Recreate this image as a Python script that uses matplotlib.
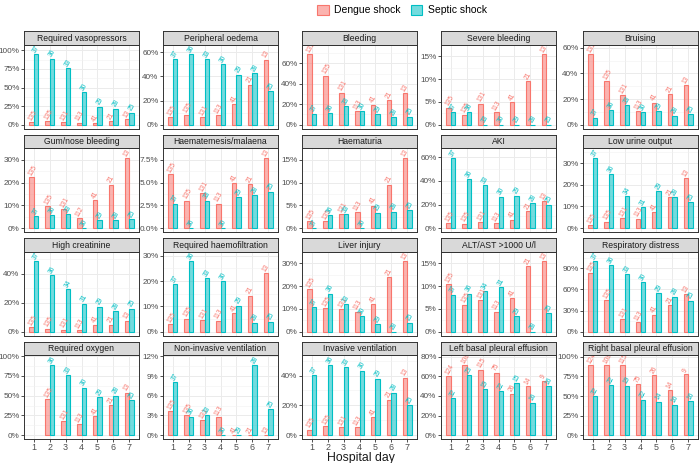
import numpy as np
import matplotlib
matplotlib.use("Agg")
import matplotlib.pyplot as plt
from matplotlib.patches import Patch
from matplotlib.ticker import FixedLocator
import matplotlib.transforms as mtransforms

plt.rcParams["font.family"] = ["Liberation Sans", "DejaVu Sans"]

days = [1, 2, 3, 4, 5, 6, 7]

titles = ["Required vasopressors", "Peripheral oedema", "Bleeding", "Severe bleeding", "Bruising",
          "Gum/nose bleeding", "Haematemesis/malaena", "Haematuria", "AKI", "Low urine output",
          "High creatinine", "Required haemofiltration", "Liver injury", "ALT/AST >1000 U/l", "Respiratory distress",
          "Required oxygen", "Non-invasive ventilation", "Invasive ventilation",
          "Left basal pleural effusion", "Right basal pleural effusion"]

# percentages (Dengue shock, Septic shock) per hospital day
vasopressors_dengue = [3.0, 4.4, 3.1, 2.7, 2.4, 4.8, 7.7]
vasopressors_septic = [94.6, 88.9, 75.8, 43.3, 24.1, 21.4, 16.0]
oedema_dengue = [6.3, 8.2, 6.3, 7.9, 17.1, 33.3, 53.8]
oedema_septic = [54.1, 58.3, 54.5, 50.0, 41.4, 42.9, 28.0]
bleeding_dengue = [68.9, 48.1, 31.3, 13.3, 19.5, 23.8, 30.8]
bleeding_septic = [10.8, 11.1, 18.2, 13.3, 10.3, 7.1, 8.0]
severe_dengue = [3.7, 2.2, 4.6, 2.7, 4.9, 9.5, 15.4]
severe_septic = [2.7, 2.8, 0, 0, 0, 0, 0]
bruising_dengue = [54.8, 34.1, 22.9, 10.6, 17.1, 23.8, 30.8]
bruising_septic = [5.4, 11.1, 15.2, 10.0, 10.3, 7.1, 8.0]
gum_dengue = [22.2, 9.6, 8.4, 4.5, 12.2, 19.0, 30.8]
gum_septic = [5.4, 5.6, 6.1, 0, 3.4, 3.6, 4.0]
haematemesis_dengue = [5.9, 3.0, 3.8, 2.7, 4.9, 4.8, 7.7]
haematemesis_septic = [2.7, 0, 3.0, 0, 3.4, 3.6, 4.0]
haematuria_dengue = [1.5, 1.5, 3.1, 3.5, 4.9, 9.5, 15.4]
haematuria_septic = [0, 2.8, 3.0, 0, 3.4, 3.6, 4.0]
aki_dengue = [4.4, 3.7, 5.3, 4.4, 7.3, 14.3, 23.1]
aki_septic = [59.5, 41.7, 36.4, 26.7, 27.6, 21.4, 20.0]
urine_dengue = [1.5, 3.0, 4.6, 4.4, 7.3, 14.3, 23.1]
urine_septic = [32.4, 25.0, 14.7, 9.7, 17.2, 14.3, 12.0]
creatinine_dengue = [3.0, 2.2, 1.5, 0.9, 4.9, 4.8, 7.7]
creatinine_septic = [48.6, 38.9, 29.4, 19.4, 17.2, 14.3, 16.0]
haemofiltration_dengue = [3.0, 5.2, 4.6, 4.4, 7.3, 14.3, 23.1]
haemofiltration_septic = [18.9, 27.8, 21.2, 20.0, 10.3, 3.6, 4.0]
liver_dengue = [18.5, 10.4, 9.9, 8.8, 12.2, 23.8, 30.8]
liver_septic = [10.8, 16.7, 12.1, 6.9, 3.4, 0, 4.0]
altast_dengue = [10.4, 5.9, 6.9, 4.4, 7.3, 14.3, 15.4]
altast_septic = [8.1, 8.3, 8.8, 9.7, 3.4, 0, 4.0]
resp_dengue = [83.0, 44.4, 17.6, 13.3, 24.4, 38.1, 53.8]
resp_septic = [100.0, 94.4, 81.8, 70.0, 55.2, 50.0, 44.0]
oxygen_dengue = [np.nan, 45.2, 17.6, 14.2, 24.4, 38.1, 53.8]
oxygen_septic = [np.nan, 88.9, 75.8, 60.0, 48.3, 50.0, 44.0]
niv_dengue = [3.7, 3.0, 2.3, 2.7, 0, 0, 0]
niv_septic = [8.1, 2.8, 3.0, 0, 0, 10.7, 4.0]
iv_dengue = [3.7, 5.9, 5.3, 5.3, 12.2, 23.8, 38.5]
iv_septic = [40.5, 47.2, 45.5, 43.3, 37.9, 28.6, 20.0]
left_dengue = [60.5, 71.7, 66.9, 63.8, 42.3, 50.0, 55.6]
left_septic = [37.5, 60.9, 47.0, 45.2, 53.3, 33.3, 50.0]
right_dengue = [89.0, 89.8, 89.6, 64.8, 76.9, 57.1, 77.8]
right_septic = [50.0, 63.6, 63.2, 45.5, 42.9, 38.9, 43.8]

# patient numbers shown above bars
n_dengue = ["135", "135", "131", "113", "41", "21", "13"]
n_septic = ["37", "36", "33", "30", "29", "28", "25"]
n_septic_b = ["37", "36", "34", "31", "29", "28", "25"]
n_gum_dengue = ["135", "135", "131", "112", "41", "21", "13"]
n_oxygen_dengue = ["", "135", "131", "113", "41", "21", "13"]
n_oxygen_septic = ["", "36", "33", "30", "29", "28", "25"]
n_pleural_dengue = ["124", "108", "115", "75", "26", "14", "9"]
n_left_septic = ["32", "23", "19", "22", "15", "16", "16"]
n_right_septic = ["32", "22", "19", "22", "14", "16", "16"]

ytick_steps = [25, 20, 20, 5, 20,
               10, 2.5, 5, 20, 10,
               20, 10, 10, 5, 30,
               25, 3, 20, 20, 25]

dengue_series = [vasopressors_dengue, oedema_dengue, bleeding_dengue, severe_dengue, bruising_dengue,
                 gum_dengue, haematemesis_dengue, haematuria_dengue, aki_dengue, urine_dengue,
                 creatinine_dengue, haemofiltration_dengue, liver_dengue, altast_dengue, resp_dengue,
                 oxygen_dengue, niv_dengue, iv_dengue, left_dengue, right_dengue]
septic_series = [vasopressors_septic, oedema_septic, bleeding_septic, severe_septic, bruising_septic,
                 gum_septic, haematemesis_septic, haematuria_septic, aki_septic, urine_septic,
                 creatinine_septic, haemofiltration_septic, liver_septic, altast_septic, resp_septic,
                 oxygen_septic, niv_septic, iv_septic, left_septic, right_septic]
n_dengue_list = [n_dengue] * 5 + [n_gum_dengue] + [n_dengue] * 9 + [n_oxygen_dengue, n_dengue, n_dengue,
                                                                      n_pleural_dengue, n_pleural_dengue]
n_septic_list = ([n_septic] * 9 + [n_septic_b, n_septic_b, n_septic, n_septic, n_septic_b, n_septic]
                 + [n_oxygen_septic, n_septic, n_septic, n_left_septic, n_right_septic])

RED = "#F8766D"
TEAL = "#00BFC4"
W, H = 700, 463
fig = plt.figure(figsize=(7, 4.63), dpi=100)

lefts = [24, 163, 302, 441, 583]
pw = 115
strip_tops = [31, 134.5, 238, 341.5]
sh = 13.5
ph = 84

x = np.array(days, dtype=float)
bw = 0.3

for i, title in enumerate(titles):
    r, c = divmod(i, 5)
    L = lefts[c]
    T = strip_tops[r]
    ax = fig.add_axes([L / W, 1 - (T + sh + ph) / H, pw / W, ph / H])
    sax = fig.add_axes([L / W, 1 - (T + sh) / H, pw / W, sh / H])
    sax.set_facecolor("#D9D9D9")
    sax.set_xticks([]); sax.set_yticks([])
    for sp in sax.spines.values():
        sp.set_color("#333333"); sp.set_linewidth(0.7)
    sax.text(0.5, 0.47, title, ha="center", va="center", fontsize=6.2, color="#1A1A1A",
             transform=sax.transAxes)

    d = np.array(dengue_series[i], dtype=float)
    s = np.array(septic_series[i], dtype=float)
    m = np.nanmax(np.concatenate([d, s]))
    ax.set_xlim(0.4, 7.6)
    ax.set_ylim(-0.054 * m, 1.14 * m)
    step = ytick_steps[i]
    ticks = np.arange(0, 1.14 * m + 1e-9, step)
    ax.yaxis.set_major_locator(FixedLocator(ticks))
    ax.yaxis.set_minor_locator(FixedLocator(np.arange(step / 2, 1.14 * m, step)))
    if step == 2.5:
        ax.set_yticklabels([f"{t:.1f}%" for t in ticks])
    else:
        ax.set_yticklabels([f"{t:.0f}%" for t in ticks])
    ax.set_xticks(days)
    ax.grid(True, which="major", color="#EBEBEB", linewidth=0.7, zorder=0)
    ax.grid(True, which="minor", axis="y", color="#F2F2F2", linewidth=0.4, zorder=0)
    ax.set_axisbelow(True)
    for sp in ax.spines.values():
        sp.set_color("#333333"); sp.set_linewidth(0.7)
    ax.tick_params(axis="both", which="major", length=2.0, width=0.6, color="#333333",
                   labelsize=5.9, labelcolor="#4D4D4D", pad=1.2)
    ax.tick_params(axis="both", which="minor", length=0)
    if r < 3:
        ax.tick_params(axis="x", length=0, labelbottom=False)
    else:
        ax.set_xticklabels([str(dd) for dd in days])
        ax.tick_params(axis="x", labelsize=6.4)

    ax.bar(x - bw / 2, d, width=bw, color=matplotlib.colors.to_rgba(RED, 0.55), edgecolor=RED,
           linewidth=0.8, zorder=3)
    ax.bar(x + bw / 2, s, width=bw, color=matplotlib.colors.to_rgba(TEAL, 0.55), edgecolor=TEAL,
           linewidth=0.8, zorder=3)
    tr = mtransforms.offset_copy(ax.transData, fig=fig, x=-1.0, y=1.5, units="points")
    for j in range(7):
        if not np.isnan(d[j]) and n_dengue_list[i][j]:
            ax.text(x[j] - bw / 2, d[j], n_dengue_list[i][j], rotation=60, rotation_mode="anchor",
                    ha="left", va="center", fontsize=4.8, color=RED, transform=tr, zorder=4)
        if not np.isnan(s[j]) and n_septic_list[i][j]:
            ax.text(x[j] + bw / 2, s[j], n_septic_list[i][j], rotation=60, rotation_mode="anchor",
                    ha="left", va="center", fontsize=4.8, color=TEAL, transform=tr, zorder=4)

fig.text((24 + 698) / 2 / W, 1 - 457.5 / H, "Hospital day", ha="center", va="center",
         fontsize=8.8, color="#1A1A1A")

handles = [Patch(facecolor=matplotlib.colors.to_rgba(RED, 0.55), edgecolor=RED, linewidth=0.8),
           Patch(facecolor=matplotlib.colors.to_rgba(TEAL, 0.55), edgecolor=TEAL, linewidth=0.8)]
fig.legend(handles, ["Dengue shock", "Septic shock"], loc="center", ncol=2,
           bbox_to_anchor=(402 / W, 1 - 10 / H), frameon=False, fontsize=7.5,
           handlelength=1.1, handleheight=1.1, columnspacing=1.0, handletextpad=0.5)

fig.savefig("out.png", dpi=100)
